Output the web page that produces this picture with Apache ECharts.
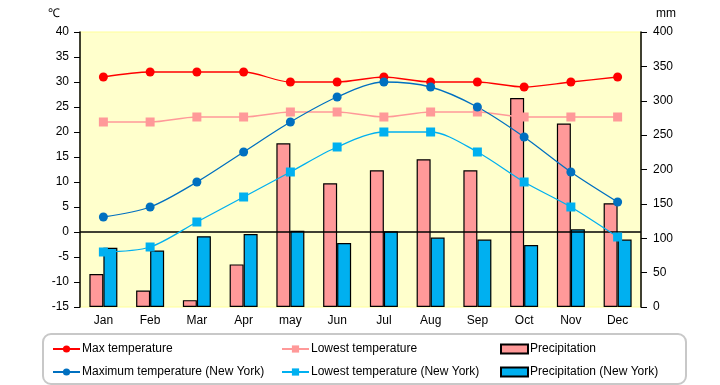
<!DOCTYPE html>
<html><head><meta charset="utf-8">
<script src="https://cdn.jsdelivr.net/npm/echarts@6/dist/echarts.min.js"></script>
<style>html,body{margin:0;padding:0;background:#fff}#c{width:720px;height:385px}</style>
</head><body><div id="c"></div>
<script>
const months = ['Jan','Feb','Mar','Apr','may','Jun','Jul','Aug','Sep','Oct','Nov','Dec'];
const maxTemp = [31,32,32,32,30,30,31,30,30,29,30,31];
const lowTemp = [22,22,23,23,24,24,23,24,24,23,23,23];
const precip = [48,24,10,62,238,180,199,215,199,304,267,151];
const nyMax = [3,5,10,16,22,27,30,29,25,19,12,6];
const nyLow = [-4,-3,2,7,12,17,20,20,16,10,5,-1];
const nyPrecip = [86,82,103,106,111,93,110,101,98,90,113,98];
const tempTicks = {min:-15,max:40,interval:5};
const mmTicks = {min:0,max:400,interval:50};

const FONT = 'Liberation Sans';
const chart = echarts.init(document.getElementById('c'), null, {renderer:'canvas'});
const txt = {color:'#000', fontFamily:FONT, fontSize:12};
function leg(name, left, top, icon){
  const o = {data:[name], left:left, top:top, itemWidth:27, itemHeight:9, itemGap:0,
    textStyle:Object.assign({}, txt, {padding:[0,0,0,-3]}), selectedMode:false, padding:0};
  if (icon) o.icon = icon;
  return o;
}
chart.setOption({
  animation:false,
  backgroundColor:'#fff',
  textStyle:{fontFamily:FONT},
  grid:{left:80, right:79, top:32, bottom:78, show:true, backgroundColor:'#FFFFCC', borderColor:'#FFFF99', borderWidth:1},
  legend:[
    leg('Max temperature', 52, 343),
    leg('Lowest temperature', 281, 343),
    leg('Precipitation', 500, 343, 'rect'),
    leg('Maximum temperature (New York)', 52, 366),
    leg('Lowest temperature (New York)', 281, 366),
    leg('Precipitation (New York)', 500, 366, 'rect')
  ],
  graphic:[
    {type:'rect', left:42, top:333, shape:{width:643, height:50, r:8}, style:{fill:'#fff', stroke:'#c8c8c8', lineWidth:2}, z:-1},
    {type:'text', left:48, top:8, style:{text:'℃', fill:'#000', font:'12px '+FONT}},
    {type:'text', left:656, top:8, style:{text:'mm', fill:'#000', font:'12px '+FONT}}
  ],
  xAxis:{type:'category', data:months, boundaryGap:true,
    axisLine:{show:false}, axisTick:{show:false},
    axisLabel:Object.assign({}, txt, {margin:8}), splitLine:{show:false}},
  yAxis:[
    Object.assign({type:'value', position:'left'}, tempTicks, {
      axisLine:{show:true, lineStyle:{color:'#000', width:1.5}},
      axisTick:{show:true, length:6, lineStyle:{color:'#000'}},
      axisLabel:Object.assign({}, txt, {margin:11}), splitLine:{show:false}}),
    Object.assign({type:'value', position:'right'}, mmTicks, {
      axisLine:{show:true, lineStyle:{color:'#000', width:1.5}},
      axisTick:{show:true, length:6, lineStyle:{color:'#000'}},
      axisLabel:Object.assign({}, txt, {margin:12}), splitLine:{show:false}})
  ],
  series:[
    {name:'Precipitation', type:'bar', yAxisIndex:1, data:precip, barWidth:14, barGap:'0%',
      itemStyle:{color:'#FF9999', borderColor:'#000', borderWidth:1.2}, z:2},
    {name:'Precipitation (New York)', type:'bar', yAxisIndex:1, data:nyPrecip, barWidth:14, barGap:'0%',
      itemStyle:{color:'#00B0F0', borderColor:'#000', borderWidth:1.2}, z:2},
    {name:'Max temperature', type:'line', data:maxTemp, smooth:0.3, symbol:'circle', symbolSize:9,
      lineStyle:{color:'#FF0000', width:1.3}, itemStyle:{color:'#FF0000'}, z:5,
      markLine:{silent:true, symbol:'none', label:{show:false}, lineStyle:{color:'#000', width:1.5, type:'solid'}, data:[{yAxis:0}], z:4}},
    {name:'Lowest temperature', type:'line', data:lowTemp, smooth:0.3, symbol:'rect', symbolSize:9,
      lineStyle:{color:'#FF9999', width:1.3}, itemStyle:{color:'#FF9999'}, z:5},
    {name:'Maximum temperature (New York)', type:'line', data:nyMax, smooth:0.3, symbol:'circle', symbolSize:9,
      lineStyle:{color:'#0070C0', width:1.3}, itemStyle:{color:'#0070C0'}, z:5},
    {name:'Lowest temperature (New York)', type:'line', data:nyLow, smooth:0.3, symbol:'rect', symbolSize:9,
      lineStyle:{color:'#00B0F0', width:1.3}, itemStyle:{color:'#00B0F0'}, z:5}
  ]
});
</script></body></html>
